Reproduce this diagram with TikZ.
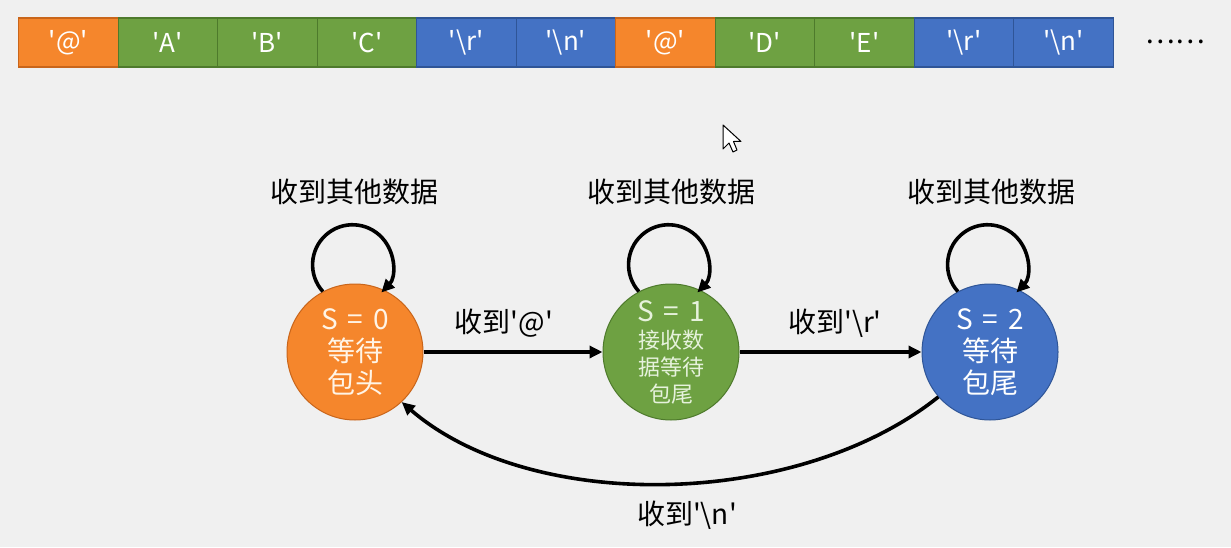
\documentclass[tikz,border=0pt]{standalone}
\usepackage{fontspec}
\setmainfont{Noto Sans CJK SC}
\usetikzlibrary{arrows.meta,calc}
\definecolor{bg}{HTML}{F0F0F0}
\definecolor{ora}{HTML}{F5862C}
\definecolor{oraD}{HTML}{C9651A}
\definecolor{oraT}{HTML}{FFF4E6}
\definecolor{grn}{HTML}{6EA142}
\definecolor{grnD}{HTML}{4E7A2C}
\definecolor{grnT}{HTML}{E6F2DC}
\definecolor{blu}{HTML}{4472C4}
\definecolor{bluD}{HTML}{2F5597}
\newcommand\sq{\textquotesingle}
\newcommand\bs{\textbackslash}
\newcommand\eqs[1]{S\hspace{0.35em}=\hspace{0.35em}#1}
\begin{document}
\begin{tikzpicture}[x=1pt,y=1pt,
 cell/.style={line width=1.2pt, minimum width=99.5pt, minimum height=49pt, inner sep=0pt, text=white, font=\fontsize{26}{26}\selectfont, anchor=west},
 state/.style={circle, line width=1pt, minimum size=136pt, inner sep=0pt, align=center, font=\fontsize{28}{32}\selectfont},
 arr/.style={line width=3.6pt, -{Triangle[length=13pt,width=12pt]}},
 lbl/.style={font=\fontsize{28}{28}\selectfont, text=black},
]
\fill[bg] (0,0) rectangle (1231,547);
\useasboundingbox (0,0) rectangle (1231,547);
% data bar
\foreach \i/\c/\d/\t in {0/ora/oraD/{\sq @\sq}, 1/grn/grnD/{\sq A\sq}, 2/grn/grnD/{\sq B\sq}, 3/grn/grnD/{\sq C\sq}, 4/blu/bluD/{\sq\bs r\sq}, 5/blu/bluD/{\sq\bs n\sq}, 6/ora/oraD/{\sq @\sq}, 7/grn/grnD/{\sq D\sq}, 8/grn/grnD/{\sq E\sq}, 9/blu/bluD/{\sq\bs r\sq}, 10/blu/bluD/{\sq\bs n\sq}}
  \node[cell, fill=\c, draw=\d] (c\i) at ({18+99.5*\i},504.5) {\t};
\node[font=\fontsize{28}{28}\selectfont] (dots) at (1175,505) {……};
% states
\node[state, fill=ora, draw=oraD, text=oraT] (s0) at (355,195) {\eqs{0}\\等待\\包头};
\node[state, fill=grn, draw=grnD, text=grnT, font=\fontsize{22}{27}\selectfont] (s1) at (671,195) {{\fontsize{28}{28}\selectfont \eqs{1}}\\接收数\\据等待\\包尾};
\node[state, fill=blu, draw=bluD, text=white] (s2) at (990,195) {\eqs{2}\\等待\\包尾};
% self loops
\foreach \s in {s0,s1,s2}
  \draw[arr] (\s.118) arc[start angle=222, end angle=-44, radius=40];
\node[lbl] (l0) at (354,355) {收到其他数据};
\node[lbl] (l1) at (671,355) {收到其他数据};
\node[lbl] (l2) at (991,355) {收到其他数据};
% transitions
\draw[arr] (s0) -- (s1);
\node[lbl] (t01) at (504,224) {收到\sq @\sq};
\draw[arr] (s1) -- (s2);
\node[lbl] (t12) at (835,224) {收到\sq\bs r\sq};
\draw[arr] (s2.221) .. controls +(-140,-112) and +(130,-112) .. (s0.-47);
\node[lbl] (t20) at (687,32) {收到\sq\bs n\sq};
% mouse cursor
\draw[fill=white, line width=1pt, line join=round] (723,422) -- (723,398) -- (729,404) -- (733,395) -- (737,397) -- (733.5,405.5) -- (741,405.5) -- cycle;
\end{tikzpicture}
\end{document}
